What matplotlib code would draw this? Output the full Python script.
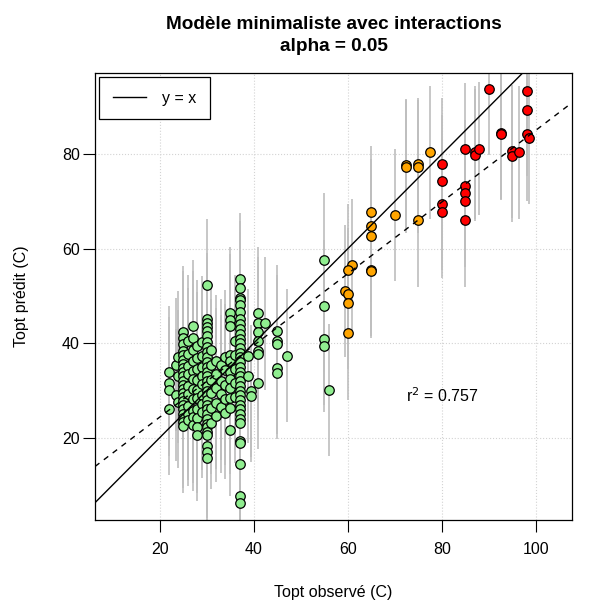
import numpy as np
import matplotlib
matplotlib.use('Agg')
import matplotlib.pyplot as plt

plt.rcParams['font.family'] = ['Liberation Sans', 'DejaVu Sans']

green_obs = ([22] * 4 + [23.5] * 2 + [24] * 3 + [25] * 22 + [26] * 9 + [27] * 11 + [28] * 10
             + [29] * 8 + [30] * 30 + [31] * 6 + [32] * 5 + [33] * 4 + [34] * 5 + [35] * 11
             + [36] * 5 + [37] * 34 + [38.7] * 2 + [39.4] * 2 + [40.9] * 7 + [42.5] + [45] * 5
             + [47] + [55] * 4 + [56])
green_pred = [33.9, 31.6, 30.1, 26.1,
              35.5, 29.0,
              37.0, 33.0, 27.5,
              42.3, 41.2, 39.8, 38.4, 37.5, 36.5, 35.6, 34.8, 33.9, 33.0, 32.1, 31.2, 30.3, 29.5,
              28.7, 27.8, 27.0, 26.0, 25.1, 24.2, 23.3, 22.4,
              40.5, 37.8, 35.2, 33.4, 31.0, 29.2, 26.8, 25.0, 23.8,
              43.6, 41.2, 38.6, 36.3, 34.2, 32.5, 30.4, 28.2, 25.6, 24.4, 22.7,
              39.4, 36.8, 34.5, 32.3, 30.2, 28.4, 26.0, 24.1, 22.3, 20.6,
              40.2, 37.3, 35.0, 33.1, 31.3, 29.1, 27.2, 25.4,
              52.4, 45.1, 44.2, 43.5, 42.6, 41.5, 40.3, 39.2, 38.1, 37.0, 36.0, 35.0, 34.0, 33.0,
              32.0, 31.0, 30.0, 29.0, 28.0, 27.0, 26.0, 25.0, 24.0, 23.0, 22.2, 21.3, 20.5,
              18.2, 17.0, 15.8,
              38.5, 35.4, 32.2, 29.5, 26.4, 23.2,
              36.2, 33.5, 30.6, 27.4, 24.6,
              35.3, 32.0, 29.3, 26.5,
              37.2, 34.3, 31.1, 28.3, 25.2,
              46.4, 45.0, 43.6, 37.5, 36.2, 34.0, 32.4, 30.5, 28.4, 26.3, 21.7,
              40.4, 37.5, 34.6, 31.5, 28.6,
              53.5, 51.8, 49.6, 49.2, 48.1, 46.7, 45.2, 44.1, 43.0, 42.0, 41.0, 40.0, 39.0, 38.0,
              37.0, 36.0, 35.0, 34.0, 33.0, 32.0, 31.0, 30.0, 29.0, 28.0, 27.0, 26.0, 25.0, 24.0,
              23.1, 19.4, 18.9, 14.4, 7.7, 6.3,
              37.4, 33.0,
              29.9, 28.8,
              46.4, 44.2, 42.3, 40.5, 38.4, 37.7, 31.6,
              44.2,
              42.5, 40.5, 39.8, 34.8, 33.8,
              37.4,
              57.7, 47.9, 40.9, 39.4,
              30.1]

orange_obs = [72.4, 72.4, 75.0, 75.0, 77.4, 65.0, 65.0, 65.0, 70.0, 75.0, 61.0, 60.1,
              65.0, 65.0, 59.4, 60.0, 60.0, 60.0]
orange_pred = [77.7, 77.4, 77.9, 77.4, 80.4, 67.8, 64.9, 62.7, 67.2, 66.0, 56.5, 55.5,
               55.6, 55.2, 51.0, 50.4, 48.6, 42.1]

red_obs = [90.0, 98.1, 98.1, 92.5, 92.5, 98.1, 98.5, 85.0, 87.0, 87.0, 88.0, 95.0, 95.0,
           96.5, 80.0, 80.0, 80.0, 80.0, 85.0, 85.0, 85.0, 85.0]
red_pred = [93.9, 93.4, 89.3, 84.6, 84.3, 84.2, 83.5, 81.1, 80.4, 79.8, 81.2, 80.6, 79.6,
            80.4, 77.9, 74.3, 69.5, 67.8, 73.3, 71.8, 70.2, 66.0]

pi_half = 14.0            # half width of the prediction intervals
fit_intercept = 9.17      # dashed regression line
fit_slope = 0.759
r2 = 0.757

fig = plt.figure(figsize=(6.0, 6.07), dpi=100)
ax = fig.add_axes([95 / 600, 1 - 520 / 607, 477 / 600, 447 / 607])

groups = [(green_obs, green_pred, '#90EE90'),
          (orange_obs, orange_pred, '#FFA500'),
          (red_obs, red_pred, '#FF0000')]

# prediction intervals first, points on top
for obs, pred, col in groups:
    obs = np.array(obs)
    pred = np.array(pred)
    ax.vlines(obs, pred - pi_half, pred + pi_half, color='#BEBEBE', lw=1.2, zorder=2)
for obs, pred, col in groups:
    ax.scatter(obs, pred, s=47, c=col, edgecolors='black', linewidths=0.9, zorder=3)

ax.axline((0, 0), slope=1, color='black', lw=1.0, zorder=4, label='y = x')
ax.axline((0, fit_intercept), slope=fit_slope, color='black', lw=1.0,
          linestyle=(0, (4, 4)), zorder=4)

ax.set_xlim(6.26, 107.7)
ax.set_ylim(2.6, 97.2)
ax.set_xticks([20, 40, 60, 80, 100])
ax.set_yticks([20, 40, 60, 80])
ax.grid(True, color='#D3D3D3', linestyle=':', lw=0.8)
ax.set_axisbelow(True)
ax.tick_params(labelsize=11.5, length=8.5, width=0.8, pad=2.5)
ax.tick_params(axis='x', pad=7)
for s in ax.spines.values():
    s.set_linewidth(0.9)

ax.text(80, 29, f'r$^2$ = {r2}', fontsize=11.5, ha='center', va='center')

ax.legend(loc='upper left', fontsize=11.5, fancybox=False, edgecolor='black',
          framealpha=1, borderpad=0.85, handlelength=2.1, handletextpad=1.0,
          borderaxespad=0.25).get_frame().set_linewidth(0.9)

ax.set_title('Modèle minimaliste avec interactions\nalpha = 0.05', fontsize=13.7,
             fontweight='bold', linespacing=1.35, pad=16)
ax.set_xlabel('Topt observé (C)', fontsize=11.5)
ax.set_ylabel('Topt prédit (C)', fontsize=11.5)
ax.xaxis.label.set_va('center')
ax.xaxis.set_label_coords(0.5, -(593 - 520) / 447)
ax.yaxis.label.set_va('center')
ax.yaxis.set_label_coords(-(95 - 22) / 477, 0.5)

plt.savefig('out.png', dpi=100)
